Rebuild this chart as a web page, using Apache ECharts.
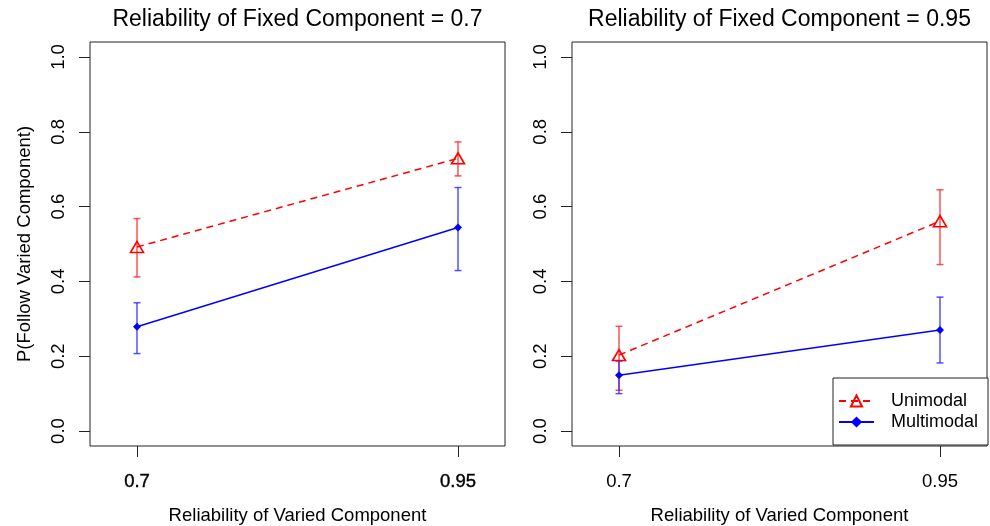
<!DOCTYPE html>
<html>
<head>
<meta charset="utf-8">
<script src="https://cdn.jsdelivr.net/npm/echarts@6/dist/echarts.min.js"></script>
<style>html,body{margin:0;padding:0;background:#fff}#c{width:990px;height:526px}</style>
</head>
<body>
<div id="c"></div>
<script>
// ---- data ----
const panelTitles = ['Reliability of Fixed Component = 0.7', 'Reliability of Fixed Component = 0.95'];
const variedX = [0.7, 0.95];
const xTickLabels = ['0.7', '0.95'];
const yTicks = [0, 0.2, 0.4, 0.6, 0.8, 1.0];
const seriesNames = ['Unimodal', 'Multimodal'];
// per panel: [panel0, panel1], each [at 0.7, at 0.95]
const uniMean  = [[0.492, 0.729], [0.203, 0.561]];
const uniLow   = [[0.412, 0.682], [0.109, 0.445]];
const uniHigh  = [[0.568, 0.773], [0.280, 0.645]];
const multiMean = [[0.279, 0.544], [0.149, 0.270]];
const multiLow  = [[0.207, 0.429], [0.100, 0.182]];
const multiHigh = [[0.343, 0.651], [0.187, 0.358]];

const FONT = '"Liberation Sans", Arial, Helvetica, sans-serif';
const RED = '#ff0000', BLUE = '#0000ff';
const ERR_RED = 'rgba(255,40,40,0.8)', ERR_BLUE = 'rgba(40,40,255,0.8)';

const chart = echarts.init(document.getElementById('c'));

const gridLefts = [90, 572];
const grids = gridLefts.map(l => ({left: l, top: 42, width: 415, height: 404, show: true,
  outerBoundsMode: 'none', containLabel: false,
  borderColor: '#222', borderWidth: 1, backgroundColor: 'transparent'}));

const xAxes = gridLefts.map((l, i) => ({
  type: 'value', gridIndex: i, min: 0.6634, max: 0.9866,
  axisLine: {show: false, onZero: false}, splitLine: {show: false},
  axisTick: {show: true, length: 11, customValues: variedX, lineStyle: {color: '#222'}},
  axisLabel: {customValues: variedX, margin: 26, fontSize: 18.5, fontFamily: FONT, color: '#000',
    textBorderColor: i === 0 ? '#000' : 'transparent', textBorderWidth: i === 0 ? 0.4 : 0,
    formatter: v => xTickLabels[variedX.findIndex(x => Math.abs(x - v) < 1e-6)] || ''},
  name: 'Reliability of Varied Component', nameLocation: 'middle', nameGap: 60,
  nameTextStyle: {fontSize: 18.5, fontFamily: FONT, color: '#000'}
}));

const yAxes = gridLefts.map((l, i) => ({
  type: 'value', gridIndex: i, min: -0.04, max: 1.04,
  axisLine: {show: false, onZero: false}, splitLine: {show: false},
  axisTick: {show: true, length: 11, customValues: yTicks, lineStyle: {color: '#222'}},
  axisLabel: {customValues: yTicks, rotate: 90, margin: 22, fontSize: 18.5, fontFamily: FONT, color: '#000',
    formatter: v => v.toFixed(1)},
  name: i === 0 ? 'P(Follow Varied Component)' : '', nameLocation: 'middle', nameGap: 56,
  nameTextStyle: {fontSize: 18.5, fontFamily: FONT, color: '#000'}
}));

function errSeries(p, low, high, color) {
  return {
    type: 'custom', xAxisIndex: p, yAxisIndex: p, silent: true, z: 1,
    encode: {x: 0, y: [1, 2]},
    data: variedX.map((x, i) => [x, low[p][i], high[p][i]]),
    renderItem: function (params, api) {
      const x = api.value(0);
      const a = api.coord([x, api.value(1)]);
      const b = api.coord([x, api.value(2)]);
      const st = {stroke: color, lineWidth: 1.5, fill: null};
      const hw = 3.5;
      return {type: 'group', children: [
        {type: 'line', shape: {x1: a[0], y1: a[1], x2: b[0], y2: b[1]}, style: st},
        {type: 'line', shape: {x1: a[0] - hw, y1: a[1], x2: a[0] + hw, y2: a[1]}, style: st},
        {type: 'line', shape: {x1: b[0] - hw, y1: b[1], x2: b[0] + hw, y2: b[1]}, style: st}
      ]};
    }
  };
}

const series = [];
[0, 1].forEach(p => {
  series.push(errSeries(p, uniLow, uniHigh, ERR_RED));
  series.push(errSeries(p, multiLow, multiHigh, ERR_BLUE));
  series.push({
    name: seriesNames[0], type: 'line', xAxisIndex: p, yAxisIndex: p, z: 3,
    data: variedX.map((x, i) => [x, uniMean[p][i]]),
    symbol: 'triangle', symbolSize: [13, 11],
    lineStyle: {color: RED, width: 1.5, type: [7, 5]},
    itemStyle: {color: 'rgba(255,255,255,0)', borderColor: RED, borderWidth: 1.6},
    emphasis: {disabled: true}, animation: false
  });
  series.push({
    name: seriesNames[1], type: 'line', xAxisIndex: p, yAxisIndex: p, z: 3,
    data: variedX.map((x, i) => [x, multiMean[p][i]]),
    symbol: 'diamond', symbolSize: 8,
    lineStyle: {color: BLUE, width: 1.5},
    itemStyle: {color: BLUE},
    emphasis: {disabled: true}, animation: false
  });
});

chart.setOption({
  animation: false,
  backgroundColor: '#fff',
  title: panelTitles.map((t, i) => ({
    text: t, left: gridLefts[i] + 207.5, top: 8, textAlign: 'center', padding: 0,
    textStyle: {fontSize: 23, fontWeight: 'normal', fontFamily: FONT, color: '#000'}
  })),
  grid: grids,
  xAxis: xAxes,
  yAxis: yAxes,
  legend: {
    data: seriesNames, orient: 'vertical', left: 833, top: 378,
    padding: [14, 10, 14, 5], itemGap: 3, itemWidth: 35, itemHeight: 14,
    backgroundColor: '#fff', borderColor: '#222', borderWidth: 1, borderRadius: 0,
    selectedMode: false,
    textStyle: {fontSize: 18, fontFamily: FONT, color: '#000', padding: [0, 0, 0, 12], lineHeight: 18}
  },
  series: series
});
</script>
</body>
</html>
